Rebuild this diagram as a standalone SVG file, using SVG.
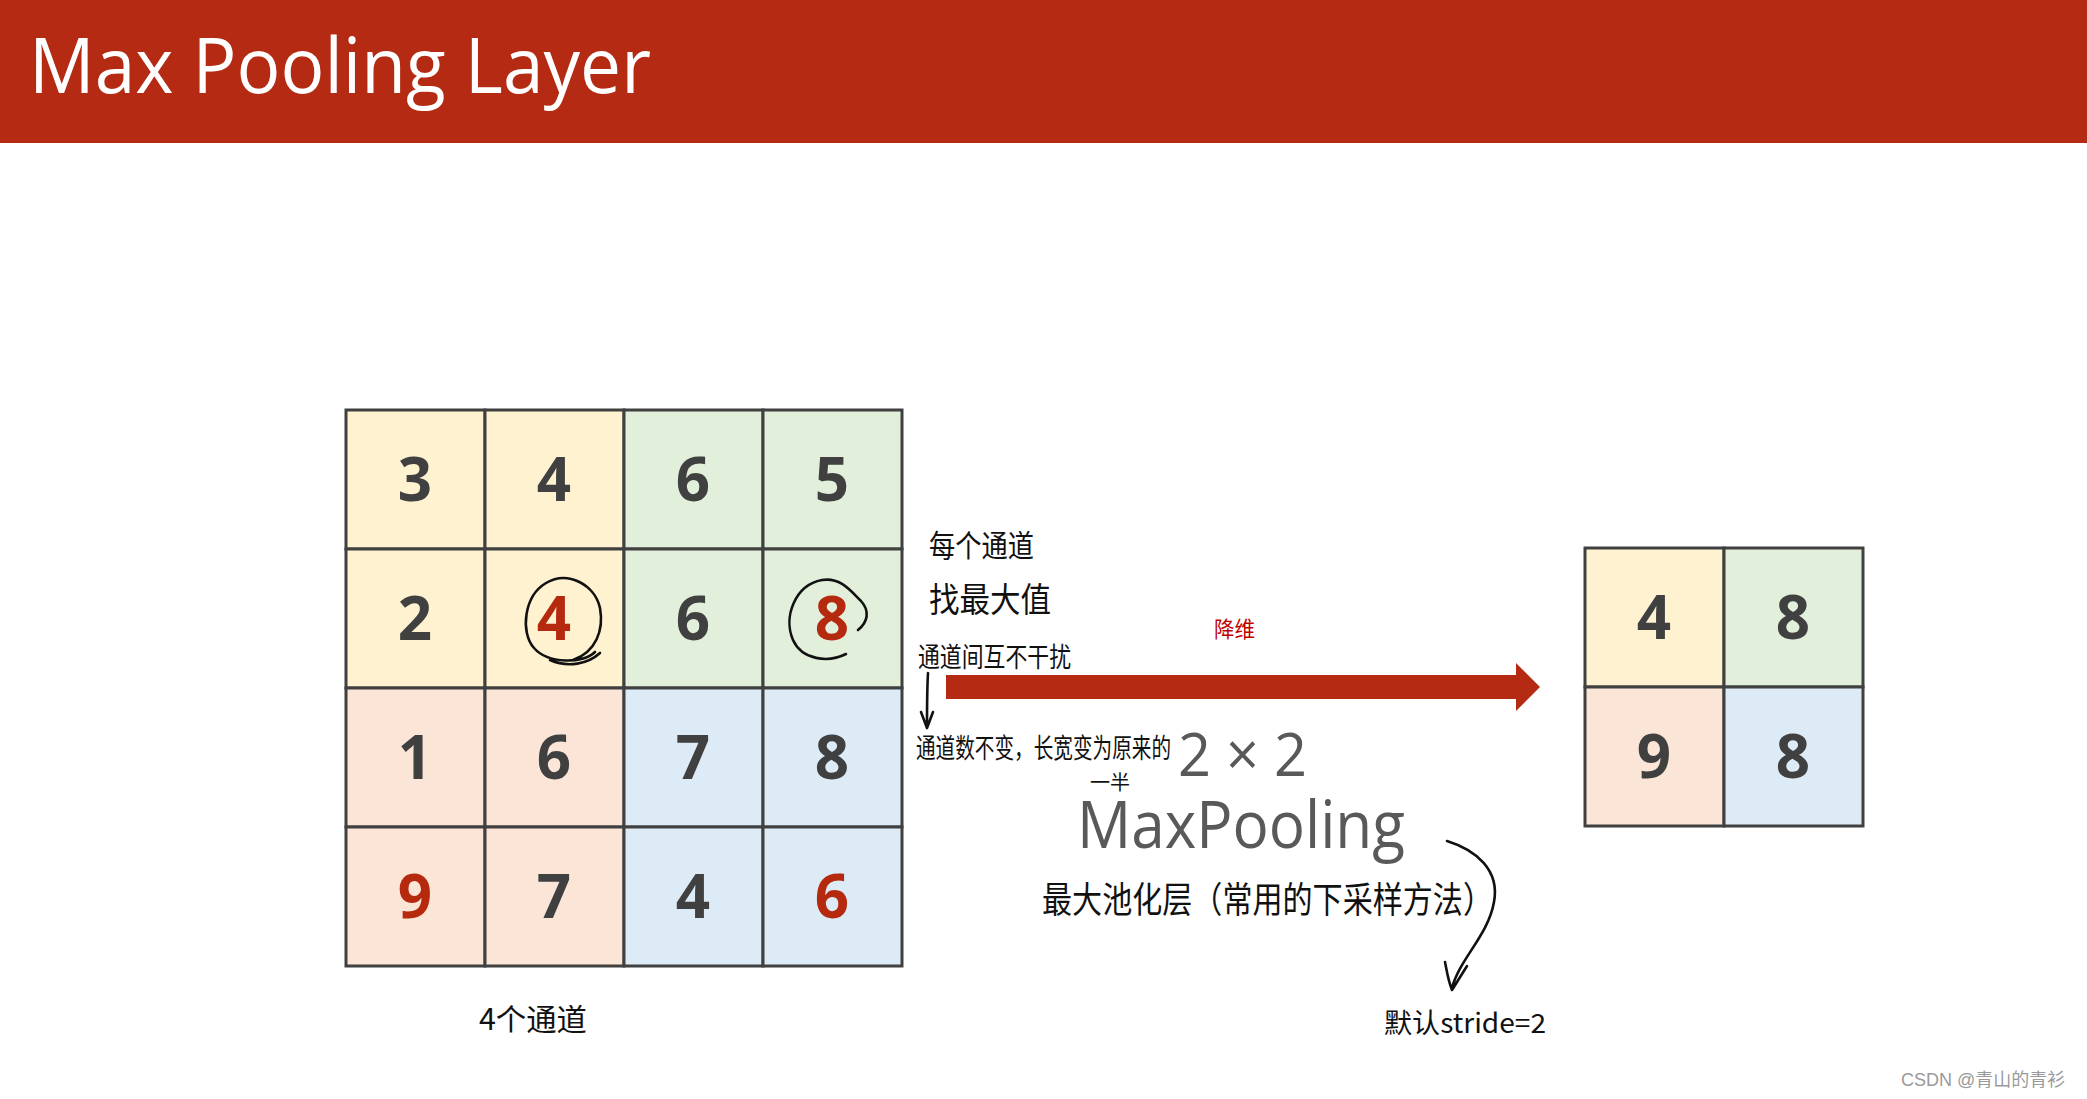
<svg xmlns="http://www.w3.org/2000/svg" width="2087" height="1099" viewBox="0 0 2087 1099">
<defs>
<style>
.cell{stroke:#404040;stroke-width:3}
.y{fill:#FEF2D0}.g{fill:#E2EFDA}.p{fill:#FBE5D6}.b{fill:#DDEBF7}
.d{font-family:"Open Sans","Noto Sans",sans-serif;font-weight:700;font-size:60px;fill:#404040;text-anchor:middle}
.r{fill:#B5290F}
.hw{font-family:"Noto Sans CJK SC","Noto Sans",sans-serif;fill:#111}
.ink{fill:none;stroke:#111;stroke-width:2.6;stroke-linecap:round;stroke-linejoin:round}
.lt{font-family:"Open Sans","Noto Sans",sans-serif;fill:#595959}
</style>
</defs>
<rect width="2087" height="1099" fill="#ffffff"/>
<g id="header">
<rect x="0" y="0" width="2087" height="143" fill="#B52A12"/>
<text x="29" y="93" font-family="Open Sans,Noto Sans,sans-serif" font-size="76" fill="#ffffff" textLength="622" lengthAdjust="spacingAndGlyphs">Max Pooling Layer</text>
</g>
<g id="input-grid">
<rect class="cell y" x="346" y="410" width="139" height="139"/>
<rect class="cell y" x="485" y="410" width="139" height="139"/>
<rect class="cell g" x="624" y="410" width="139" height="139"/>
<rect class="cell g" x="763" y="410" width="139" height="139"/>
<rect class="cell y" x="346" y="549" width="139" height="139"/>
<rect class="cell y" x="485" y="549" width="139" height="139"/>
<rect class="cell g" x="624" y="549" width="139" height="139"/>
<rect class="cell g" x="763" y="549" width="139" height="139"/>
<rect class="cell p" x="346" y="688" width="139" height="139"/>
<rect class="cell p" x="485" y="688" width="139" height="139"/>
<rect class="cell b" x="624" y="688" width="139" height="139"/>
<rect class="cell b" x="763" y="688" width="139" height="139"/>
<rect class="cell p" x="346" y="827" width="139" height="139"/>
<rect class="cell p" x="485" y="827" width="139" height="139"/>
<rect class="cell b" x="624" y="827" width="139" height="139"/>
<rect class="cell b" x="763" y="827" width="139" height="139"/>
<text class="d" x="415" y="501">3</text>
<text class="d" x="554" y="501">4</text>
<text class="d" x="693" y="501">6</text>
<text class="d" x="832" y="501">5</text>
<text class="d" x="415" y="640">2</text>
<text class="d r" x="554" y="640">4</text>
<text class="d" x="693" y="640">6</text>
<text class="d r" x="832" y="640">8</text>
<text class="d" x="415" y="779">1</text>
<text class="d" x="554" y="779">6</text>
<text class="d" x="693" y="779">7</text>
<text class="d" x="832" y="779">8</text>
<text class="d r" x="415" y="918">9</text>
<text class="d" x="554" y="918">7</text>
<text class="d" x="693" y="918">4</text>
<text class="d r" x="832" y="918">6</text>
</g>
<g id="circle-4">
<path class="ink" d="M595 652 C583 664 548 664 534 648 C520 632 524 596 546 583 C568 570 595 585 600 608 C604 630 596 652 573 660 M550 660 C568 668 588 664 600 653"/>
</g>
<g id="circle-8">
<path class="ink" d="M846 654 C828 663 802 660 793 640 C783 617 795 585 822 580 C840 577 850 590 861 601 C870 611 868 622 858 630"/>
</g>
<g id="output-grid">
<rect class="cell y" x="1585" y="548" width="139" height="139"/>
<rect class="cell g" x="1724" y="548" width="139" height="139"/>
<rect class="cell p" x="1585" y="687" width="139" height="139"/>
<rect class="cell b" x="1724" y="687" width="139" height="139"/>
<text class="d" x="1654" y="639">4</text>
<text class="d" x="1793" y="639">8</text>
<text class="d" x="1654" y="778">9</text>
<text class="d" x="1793" y="778">8</text>
</g>
<g id="labels">
<text class="lt" x="1178" y="776" font-size="60" textLength="129" lengthAdjust="spacingAndGlyphs">2 × 2</text>
<text class="lt" x="1077" y="848" font-size="66" textLength="328" lengthAdjust="spacingAndGlyphs">MaxPooling</text>
<text class="hw" x="1214" y="637" font-size="22" style="fill:#C00000" textLength="41" lengthAdjust="spacingAndGlyphs">降维</text>
<text class="hw" x="929" y="557" font-size="31" textLength="105" lengthAdjust="spacingAndGlyphs">每个通道</text>
<text class="hw" x="929" y="612" font-size="34" textLength="122" lengthAdjust="spacingAndGlyphs">找最大值</text>
<text class="hw" x="918" y="667" font-size="27" textLength="153" lengthAdjust="spacingAndGlyphs">通道间互不干扰</text>
<text class="hw" x="916" y="758" font-size="27" textLength="255" lengthAdjust="spacingAndGlyphs">通道数不变，长宽变为原来的</text>
<text class="hw" x="1090" y="790" font-size="20">一半</text>
<text class="hw" x="1042" y="913" font-size="36" textLength="451" lengthAdjust="spacingAndGlyphs">最大池化层（常用的下采样方法）</text>
<text class="hw" x="1384" y="1033" font-size="27" textLength="162" lengthAdjust="spacingAndGlyphs">默认stride=2</text>
<text class="hw" x="479" y="1030" font-size="30" textLength="108" lengthAdjust="spacingAndGlyphs">4个通道</text>
<text x="1901" y="1086" font-family="Liberation Sans,Noto Sans CJK SC,sans-serif" font-size="18" fill="#9a9a9a">CSDN @青山的青衫</text>
</g>
<g id="connectors">
<path d="M946 675 H1516 V663 L1540 687 L1516 711 V699 H946 Z" fill="#B52A12"/>
<path class="ink" d="M928 673 C927 690 927 708 927 727 M921 712 L927 728 L933 712"/>
<path class="ink" d="M1447 841 C1476 850 1500 870 1494 902 C1488 936 1460 958 1452 988 M1445 962 C1447 972 1448 980 1452 990 L1467 966"/>
</g>
</svg>
